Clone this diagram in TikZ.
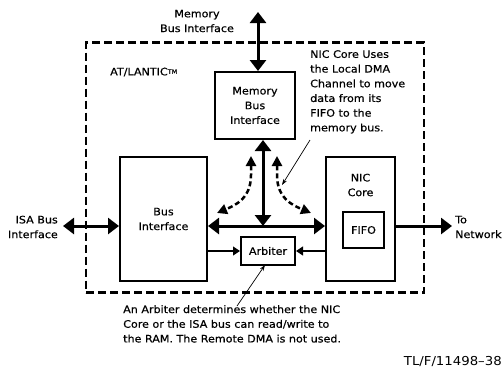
\documentclass[tikz,border=0pt]{standalone}
\usepackage{fontspec}
\setmainfont{DejaVu Sans}[FakeStretch=1.08,FakeBold=0.5]
\newfontfamily\tlfont{DejaVu Sans}[FakeStretch=1.08]
\usetikzlibrary{arrows.meta}
\begin{document}
\begin{tikzpicture}[x=1pt,y=-1pt,
  txt/.style={font=\fontsize{10.3}{14.7}\selectfont, inner sep=0pt},
  blk/.style={draw, line width=2pt, minimum width=#1, inner sep=0pt},
  bigarrow/.style={line width=3pt, {Triangle[length=11pt,width=16pt]}-{Triangle[length=11pt,width=16pt]}},
  onearrow/.style={line width=3pt, -{Triangle[length=11pt,width=16pt]}},
  thinarrow/.style={line width=1.2pt, -{Triangle[length=7pt,width=9pt]}},
  ptr/.style={line width=0.7pt, -{Stealth[length=6pt,width=4pt]}},
  dasharrow/.style={line width=2.5pt, dash pattern=on 5pt off 3pt, {Triangle[length=10pt,width=10pt]}-{Triangle[length=10pt,width=10pt]}},
  outerbox/.style={draw, line width=2.5pt, dash pattern=on 8pt off 4pt, inner sep=0pt}
]
\path[use as bounding box] (0,0) rectangle (504,368);

\node[outerbox, minimum width=338pt, minimum height=250pt] (outer) at (255,167.5) {};

\node[blk=80pt, minimum height=67pt, txt, align=center] (mem) at (255,105.5) {Memory\\Bus\\Interface};
\node[blk=87pt, minimum height=124pt, txt, align=center] (bus) at (163.5,219) {Bus\\Interface};
\node[blk=69pt, minimum height=124pt] (nic) at (360.5,219) {};
\node[txt, align=center] (niclbl) at (360.5,185) {NIC\\Core};
\node[blk=41pt, minimum height=36pt, txt] (fifo) at (363.5,230) {FIFO};
\node[blk=54pt, minimum height=28pt, txt] (arb) at (268,251) {Arbiter};

\node[txt, align=center] (memlbl) at (197,21) {Memory\\Bus Interface};
\node[txt, anchor=west] (atl) at (110,72) {AT/LANTIC\raisebox{1.5pt}{\fontsize{6}{6}\selectfont TM}};
\node[txt, anchor=north west, align=left] (note1) at (310,50) {NIC Core Uses\\the Local DMA\\Channel to move\\data from its\\FIFO to the\\memory bus.};
\node[txt, anchor=north west, align=left] (note2) at (123,305) {An Arbiter determines whether the NIC\\Core or the ISA bus can read/write to\\the RAM. The Remote DMA is not used.};
\node[txt, anchor=east, align=right] (isalbl) at (58,227) {ISA Bus\\Interface};
\node[txt, anchor=west, align=left] (netlbl) at (455,227) {To\\Network};
\node[txt, anchor=east, font=\tlfont\fontsize{12.3}{13}\selectfont] (tl) at (502,361) {TL/F/11498–38};

\coordinate (memtop) at (258,12);
\coordinate (vbot) at (263,226);
\coordinate (isa) at (63,226);
\coordinate (net) at (452,226);
\coordinate (n1) at (310,140);
\coordinate (n1tip) at (282,185);
\coordinate (n2) at (237,306);
\coordinate (n2tip) at (265,265);

\draw[bigarrow] (memtop) -- (memtop |- mem.north);
\draw[bigarrow] (vbot |- mem.south) -- (vbot);
\draw[bigarrow] (bus.east |- vbot) -- (nic.west |- vbot);
\draw[bigarrow] (isa) -- (bus.west |- isa);
\draw[onearrow] (nic.east |- net) -- (net);
\draw[thinarrow] (bus.east |- arb) -- (arb.west);
\draw[thinarrow] (nic.west |- arb) -- (arb.east);
\draw[dasharrow] (251,156) -- (251,175) .. controls (251,198) and (236,205) .. (217,213);
\draw[dasharrow] (277,156) -- (277,175) .. controls (277,198) and (292,205) .. (311,213);
\draw[ptr] (n1) -- (n1tip);
\draw[ptr] (n2) -- (n2tip);
\end{tikzpicture}
\end{document}
